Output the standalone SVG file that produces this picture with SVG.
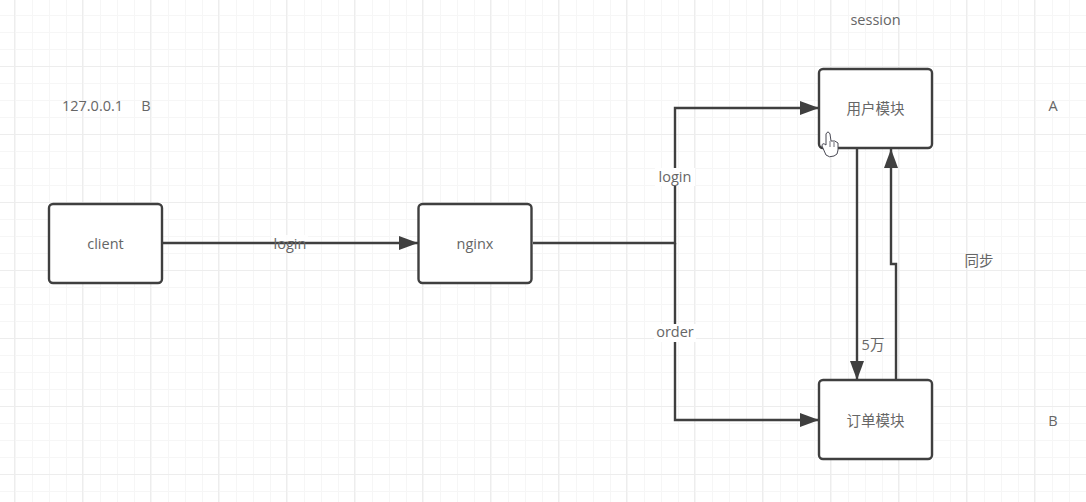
<svg xmlns="http://www.w3.org/2000/svg" width="1086" height="502" viewBox="0 0 1086 502">
<style>
.min{stroke:#f6f6f6;stroke-width:1;fill:none}
.maj{stroke:#ededed;stroke-width:1;fill:none}
.box{fill:#fff;stroke:#3f3f3f;stroke-width:2.4}
.edge{fill:none;stroke:#3f3f3f;stroke-width:2.4}
text{font-family:"Open Sans","Noto Sans CJK SC",sans-serif;font-size:14.5px;fill:#666;text-anchor:middle}
</style>
<defs>
<marker id="arrow" markerUnits="userSpaceOnUse" markerWidth="20" markerHeight="14" refX="19" refY="7" orient="auto"><path d="M0 0L19 7L0 14Z" fill="#3f3f3f"/></marker>
<pattern id="gmin" width="17" height="17" patternUnits="userSpaceOnUse" x="-2" y="-2"><path class="min" d="M.5 0V17M0 .5H17"/></pattern>
<pattern id="gmaj" width="68" height="68" patternUnits="userSpaceOnUse" x="14" y="-2"><path class="maj" d="M.5 0V68M0 .5H68"/></pattern>
</defs>
<rect width="1086" height="502" fill="#fff"/>
<rect width="1086" height="502" fill="url(#gmin)"/>
<rect width="1086" height="502" fill="url(#gmaj)"/>
<g id="connectors">
<path class="edge" d="M163 243H418" marker-end="url(#arrow)"/>
<path class="edge" d="M533 243H675V108H819" marker-end="url(#arrow)"/>
<path class="edge" d="M675 243V420H819" marker-end="url(#arrow)"/>
<path class="edge" d="M857 149V380" marker-end="url(#arrow)"/>
<path class="edge" d="M896 380V264H891V149" marker-end="url(#arrow)"/>
</g>
<g id="edge-labels">
<rect x="272" y="235" width="36" height="6" fill="#fff" fill-opacity="0.85"/>
<text x="290" y="249">login</text>
<rect x="655" y="168" width="40" height="18" fill="#fff"/>
<text x="675" y="182">login</text>
<rect x="654" y="324" width="42" height="18" fill="#fff"/>
<text x="675" y="337">order</text>
<text x="873" y="350">5万</text>
</g>
<g id="client"><rect class="box" x="49" y="204" width="113" height="79" rx="4"/><text x="105.500" y="249">client</text></g>
<g id="nginx"><rect class="box" x="418.500" y="204" width="113" height="79" rx="4"/><text x="475" y="249">nginx</text></g>
<g id="user-module"><rect class="box" x="819" y="69" width="113" height="79" rx="4"/><text x="875.500" y="114">用户模块</text></g>
<g id="order-module"><rect class="box" x="819" y="380" width="113" height="79" rx="4"/><text x="875.500" y="426">订单模块</text></g>
<g id="notes">
<text x="875.500" y="25">session</text>
<text x="92.500" y="111">127.0.0.1</text>
<text x="146" y="111">B</text>
<text x="1053" y="111">A</text>
<text x="1053" y="426">B</text>
<text x="979" y="266">同步</text>
</g>
<path id="cursor" d="M826 134Q828 130 830 134L831 141Q835 140 838 143V150Q838 155 834 156Q829 158 826 155L822 146Q822 142 826 145Z" fill="#fff" stroke="#4a4a55" stroke-width="1"/>
<path d="M830 141V147M834 142V147" fill="none" stroke="#4a4a55" stroke-width="0.8"/>
</svg>
